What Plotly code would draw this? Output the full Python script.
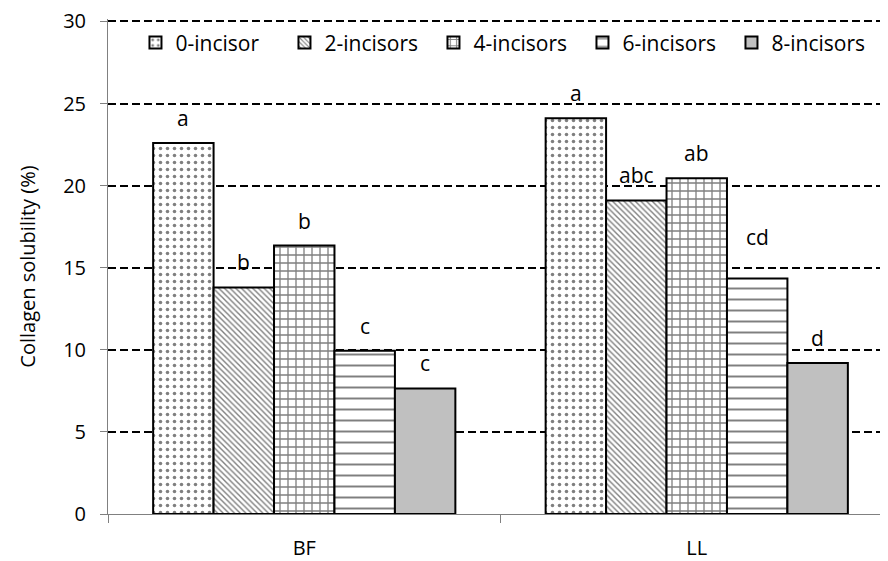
import plotly.graph_objects as go

categories = ["BF", "LL"]
series_names = ["0-incisor", "2-incisors", "4-incisors", "6-incisors", "8-incisors"]
values = {
    "0-incisor": [22.6, 24.1],
    "2-incisors": [13.8, 19.1],
    "4-incisors": [16.35, 20.45],
    "6-incisors": [9.95, 14.35],
    "8-incisors": [7.65, 9.2],
}
letters = {
    "0-incisor": ["a", "a"],
    "2-incisors": ["b", "abc"],
    "4-incisors": ["b", "ab"],
    "6-incisors": ["c", "cd"],
    "8-incisors": ["c", "d"],
}
y_ticks = [0, 5, 10, 15, 20, 25, 30]

styles = {
    "0-incisor": dict(shape=".", size=7, solidity=0.2, bg="white", fg="black"),
    "2-incisors": dict(shape="\\", size=4, solidity=0.35, bg="white", fg="black"),
    "4-incisors": dict(shape="+", size=8, solidity=0.3, bg="white", fg="black"),
    "6-incisors": dict(shape="-", size=11, solidity=0.18, bg="white", fg="black"),
    "8-incisors": dict(shape="", size=8, solidity=0.3, bg="#c0c0c0", fg="black"),
}

FONT = "Open Sans"
fig = go.Figure()
for name in series_names:
    st = styles[name]
    marker = dict(color=st["bg"], line=dict(color="black", width=2))
    if st["shape"]:
        marker["pattern"] = dict(shape=st["shape"], size=st["size"], solidity=st["solidity"],
                                 fgcolor=st["fg"], bgcolor=st["bg"], fillmode="overlay")
    fig.add_trace(go.Bar(name=name, x=categories, y=values[name], marker=marker,
                         offsetgroup=name))

n = len(series_names)
bargap = 0.23
group_w = 1 - bargap
bar_w = group_w / n
for i, name in enumerate(series_names):
    for j, cat in enumerate(categories):
        xpos = j - group_w / 2 + bar_w * (i + 0.5)
        shift = 41 if letters[name][j] == "cd" else 25
        fig.add_annotation(x=xpos, y=values[name][j], text=letters[name][j], showarrow=False,
                           xref="x", yref="y", yshift=shift, yanchor="middle",
                           font=dict(family=FONT, size=21, color="black"))

fig.update_layout(
    width=888, height=561,
    margin=dict(l=100, r=3, t=11, b=55),
    paper_bgcolor="white", plot_bgcolor="white",
    barmode="group", bargap=bargap, bargroupgap=0,
    font=dict(family=FONT, size=20, color="black"),
    showlegend=True,
    legend=dict(orientation="h", x=0.035, y=0.993, xanchor="left", yanchor="top",
                bgcolor="rgba(0,0,0,0)", font=dict(family=FONT, size=21),
                entrywidth=104, entrywidthmode="pixels", itemwidth=30,
                tracegroupgap=0, traceorder="normal"),
)
fig.update_xaxes(type="category", range=[-0.5, 1.5], showgrid=False, showline=True,
                 linecolor="#808080", linewidth=1, ticks="outside", tickson="boundaries",
                 ticklen=8, tickcolor="#808080", tickfont=dict(family=FONT, size=20),
                 ticklabelstandoff=16, automargin=False)
fig.update_yaxes(range=[0, 30.15], tickvals=y_ticks, showgrid=True, gridcolor="black",
                 griddash="8px,4px", gridwidth=1.8, showline=True, linecolor="#808080",
                 linewidth=1, ticks="outside", ticklen=7, tickcolor="#808080",
                 zeroline=False, tickfont=dict(family=FONT, size=20), automargin=False,
                 ticklabelstandoff=10, ticklabeloverflow="allow",
                 title=dict(text="Collagen solubility (%)", font=dict(family=FONT, size=20),
                            standoff=22))

fig.write_html("out.html")
